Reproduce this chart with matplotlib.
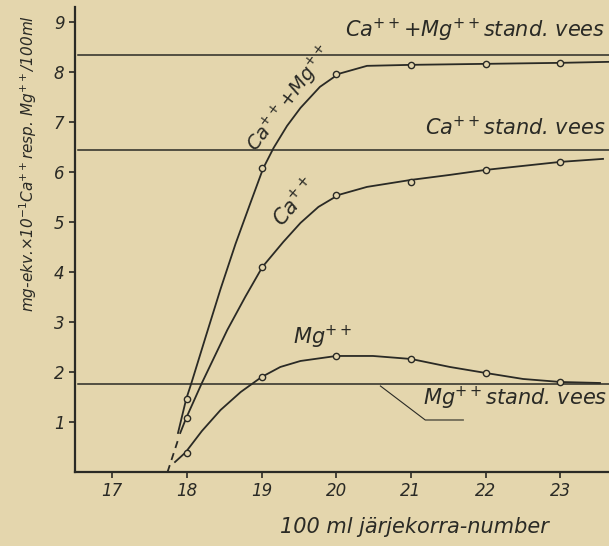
import matplotlib.pyplot as plt

# values
x_marks = [18, 19, 20, 21, 22, 23]
camg_marks = [1.46, 6.07, 7.96, 8.14, 8.16, 8.18]
ca_marks = [1.08, 4.10, 5.54, 5.80, 6.04, 6.20]
mg_marks = [0.39, 1.90, 2.32, 2.26, 1.98, 1.80]

# traced curve points
camg_x = [17.88, 17.99, 18.06, 18.25, 18.45, 18.65, 18.85, 19.02, 19.16, 19.34, 19.52, 19.78, 20.03, 20.41, 21.0, 22.0, 23.0, 23.65]
camg_y = [0.78, 1.46, 1.78, 2.70, 3.66, 4.56, 5.38, 6.07, 6.48, 6.92, 7.28, 7.70, 7.96, 8.12, 8.14, 8.16, 8.18, 8.20]
ca_x = [17.91, 17.99, 18.20, 18.54, 18.78, 19.01, 19.29, 19.52, 19.76, 20.03, 20.41, 21.0, 21.52, 22.0, 22.50, 23.0, 23.57]
ca_y = [0.78, 1.08, 1.78, 2.84, 3.50, 4.10, 4.60, 4.98, 5.30, 5.54, 5.70, 5.84, 5.94, 6.04, 6.12, 6.20, 6.26]
mg_x = [17.84, 17.98, 18.20, 18.45, 18.72, 19.0, 19.25, 19.52, 20.0, 20.49, 21.0, 21.52, 22.0, 22.50, 23.0, 23.53]
mg_y = [0.20, 0.39, 0.82, 1.24, 1.60, 1.90, 2.10, 2.22, 2.32, 2.32, 2.26, 2.10, 1.98, 1.86, 1.80, 1.78]
dash_x = [17.74, 17.88]
dash_y = [0.0, 0.64]

std_camg = 8.33
std_ca = 6.44
std_mg = 1.76

x_ticks = [17, 18, 19, 20, 21, 22, 23]
y_ticks = [1, 2, 3, 4, 5, 6, 7, 8, 9]

paper = '#e4d6ad'
ink = '#2a2a25'

fig = plt.figure(figsize=(6.09, 5.46), dpi=100, facecolor=paper)
ax = fig.add_axes([0.123, 0.1355, 0.877, 0.852])
ax.set_facecolor(paper)
ax.set_xlim(16.5, 23.65)
ax.set_ylim(0, 9.3)

for s in ['top', 'right']:
    ax.spines[s].set_visible(False)
for s in ['left', 'bottom']:
    ax.spines[s].set_color(ink)
    ax.spines[s].set_linewidth(1.6)

for v in [std_camg, std_ca, std_mg]:
    ax.axhline(v, xmin=0.006, color=ink, lw=1.1)

ax.plot(camg_x, camg_y, color=ink, lw=1.3)
ax.plot(ca_x, ca_y, color=ink, lw=1.3)
ax.plot(mg_x, mg_y, color=ink, lw=1.3)
ax.plot(dash_x, dash_y, color=ink, lw=1.3, ls=(0, (4, 3)))
for ys in [camg_marks, ca_marks, mg_marks]:
    ax.plot(x_marks, ys, 'o', ms=4.5, mfc=paper, mec=ink, mew=1.0)

ax.set_xticks(x_ticks)
ax.set_yticks(y_ticks)
ax.tick_params(colors=ink, width=1.2, length=4, labelsize=12)
for lab in ax.get_xticklabels() + ax.get_yticklabels():
    lab.set_style('italic')

tkw = dict(color=ink, style='italic', fontsize=15)
ax.text(23.6, 8.55, r'Ca$^{++}$+Mg$^{++}$stand. vees', ha='right', va='bottom', **tkw)
ax.text(23.6, 6.66, r'Ca$^{++}$stand. vees', ha='right', va='bottom', **tkw)
ax.text(21.16, 1.2, r'Mg$^{++}$stand. vees', ha='left', va='bottom', **tkw)
ax.plot([20.59, 21.19, 21.70], [1.72, 1.04, 1.04], color=ink, lw=0.8)

ax.text(19.38, 7.46, r'Ca$^{++}$+Mg$^{++}$', rotation=53, ha='center', va='center',
        color=ink, style='italic', fontsize=14)
ax.text(19.44, 5.4, r'Ca$^{++}$', rotation=50, ha='center', va='center', **tkw)
ax.text(19.81, 2.42, r'Mg$^{++}$', ha='center', va='bottom', **tkw)

fig.text(0.046, 0.70, r'mg-ekv.$\times$10$^{-1}$Ca$^{++}$resp. Mg$^{++}$/100ml',
         rotation=90, ha='center', va='center', color=ink, style='italic', fontsize=11)
fig.text(0.68, 0.035, '100 ml järjekorra-number', ha='center', va='center', **tkw)

fig.savefig('out.png', dpi=100, facecolor=paper)
